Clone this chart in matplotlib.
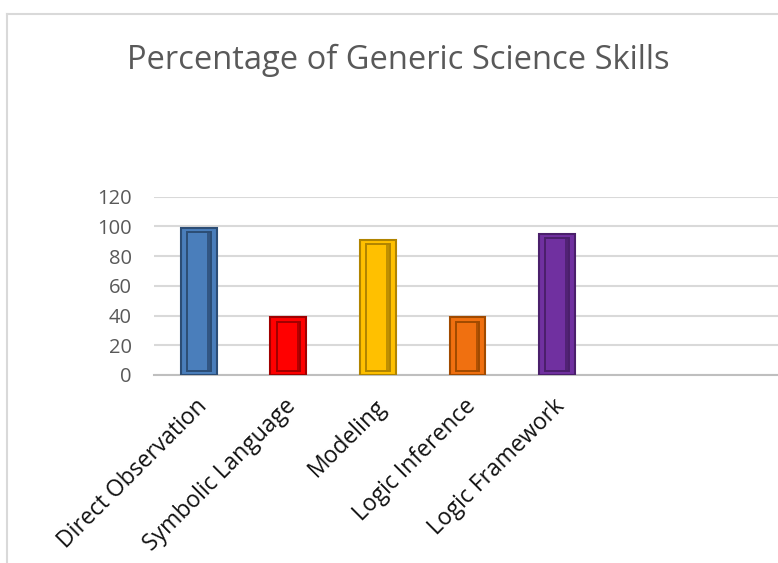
import matplotlib.pyplot as plt
from matplotlib.lines import Line2D
from matplotlib.transforms import ScaledTranslation

# Chart data
categories = ["Direct Observation", "Symbolic Language", "Modeling",
              "Logic Inference", "Logic Framework", "", ""]
values = [99, 39, 91, 39, 95, 0, 0]
colors = ["#4A7EBB", "#FF0000", "#FFC000", "#F07010", "#7030A0", "none", "none"]
edge_colors = ["#2C4D75", "#A00000", "#B08400", "#A04A00", "#4A1F6B", "none", "none"]
yticks = [0, 20, 40, 60, 80, 100, 120]

plt.rcParams["font.family"] = ["Open Sans", "DejaVu Sans"]

fig = plt.figure(figsize=(7.78, 5.63), dpi=100)
ax = fig.add_axes([154 / 778, 188 / 563, 627 / 778, 178.3 / 563])

x = list(range(len(categories)))
width = 0.40

# Outer bar
ax.bar(x, values, width=width, color=colors, edgecolor=edge_colors,
       linewidth=1.5, zorder=3)
# Inner bevel panel
ax.bar(x, [max(v - 6, 0) for v in values], bottom=[3 if v else 0 for v in values],
       width=width * 0.66, color="none", edgecolor=edge_colors,
       linewidth=1.4, zorder=4)
# Dark shading on the right side of the panel
ax.bar([i + width * 0.27 for i in x], [max(v - 6, 0) for v in values],
       bottom=[3 if v else 0 for v in values], width=width * 0.08,
       color=edge_colors, edgecolor="none", alpha=0.8, zorder=4)

ax.set_xlim(-0.5, len(categories) - 0.5)
ax.set_ylim(0, 120)
ax.set_yticks(yticks)
ax.yaxis.grid(True, color="#D9D9D9", linewidth=1.5, zorder=0)
ax.set_axisbelow(True)

for side in ["left", "right", "top"]:
    ax.spines[side].set_visible(False)
ax.spines["bottom"].set_color("#BFBFBF")
ax.spines["bottom"].set_linewidth(1.5)

ax.tick_params(axis="y", length=0, pad=16, labelsize=14.5, labelcolor="#595959")
ax.tick_params(axis="x", length=0, pad=14)
ax.set_xticks(x)
ax.set_xticklabels(categories, rotation=45, ha="right", rotation_mode="anchor",
                   fontsize=16.5, color="#111111")
# nudge the rotated labels a little to the left
shift = ScaledTranslation(-4 / 100, 0, fig.dpi_scale_trans)
for lbl in ax.get_xticklabels():
    lbl.set_transform(lbl.get_transform() + shift)

fig.text(398 / 778, 1 - 60 / 563, "Percentage of Generic Science Skills",
         ha="center", va="center", fontsize=23.5, color="#595959")

# Chart area border
fig.add_artist(Line2D([7 / 778, 7 / 778], [0, 1 - 14 / 563],
                      transform=fig.transFigure, color="#D9D9D9", linewidth=1.5))
fig.add_artist(Line2D([7 / 778, 1], [1 - 14 / 563, 1 - 14 / 563],
                      transform=fig.transFigure, color="#D9D9D9", linewidth=1.5))

fig.savefig("out.png", dpi=100)
